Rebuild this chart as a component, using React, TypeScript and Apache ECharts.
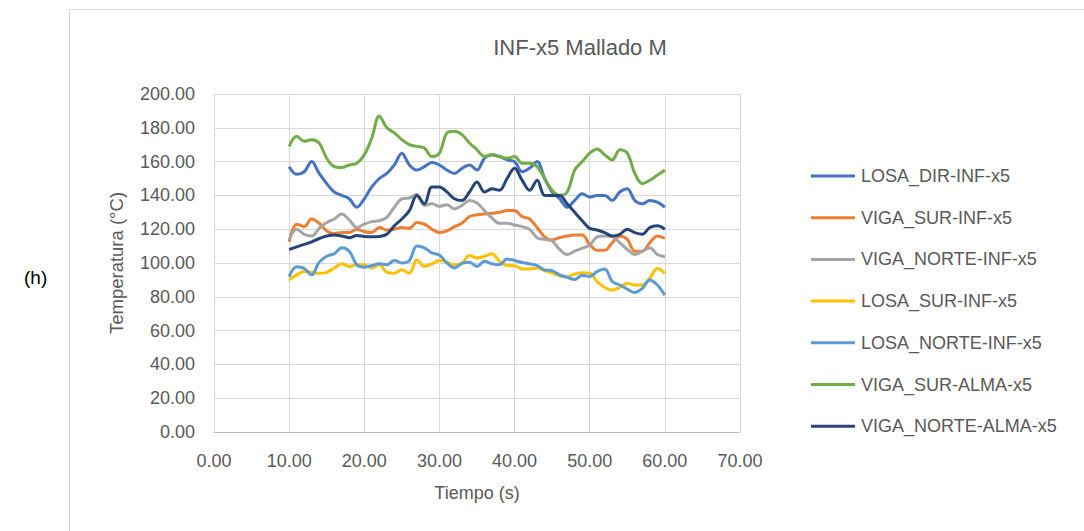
import React, { useEffect, useRef } from "react";
import * as echarts from "echarts";

const times = [10,11,12,13,14,15,16,17,18,19,20,21,22,23,24,25,26,27,28,29,30,31,32,33,34,35,36,37,38,39,40,41,42,43,44,45,46,47,48,49,50,51,52,53,54,55,56,57,58,59,60];

const losaDir = [157,152.5,154,160,153,147,142,140,138,133,138,145,150,153,158,165,158,155,157,159.5,158,155,153,156,158,155,162,164,163,161,160,154,156,160,150,142,138,133,137,141,139,140,140,137,142,144,137,135,137,136,133];
const vigaSurInf = [112.6,123,121.5,126,123.5,119,117.5,118,118,120,118.5,118,121,119.5,120,121,120.5,124,123,120,118,119,121.5,123.5,127.5,128.5,129,129.5,130,131,131,127.5,126,121,115.5,113.6,115,116,116.5,116.5,111,107.5,107.5,112,116,114,107,107,112,116,114.6];
const vigaNorteInf = [113.6,120,117,116,120.5,124,126,129,125.5,121,123,124.5,125,127,133,138,138.5,140.5,134,135,133.5,134.5,132,134,137,135.5,131,126.5,123.5,123.5,122.5,121.5,120,115,114,113,108,105,107,108.7,110.6,115.5,116,115.6,112,108,105,107,109,105,103.7];
const losaSurInf = [90,93,95,94.5,93.9,94.5,97,99.5,98,99,98.8,97,99,94.5,94,96,94,101.8,98,99.5,101.5,100.5,98.8,99.8,104.5,103,104,105.5,101,98.5,98.4,96.5,96.5,97,95.5,94,92.5,91.9,93.5,94.2,94,89,85.5,84,85.5,88,87,87,91,96.8,93.9];
const losaNorteInf = [91.9,97.8,96.8,93,100.5,104,105.5,109,107,99,97.5,98.5,99.5,99,101.5,100,101.5,110,109,106,104.7,100,97,99.8,100.5,98,101,99.5,99,102.3,101.5,100.3,99.5,98.5,95.9,95.5,93,91.5,90.2,92.8,92,95,96.5,89,87,84.5,82.5,85,90,87,81];
const vigaSurAlma = [169,175,172,173,171,162,157,156.5,158,159,164,174,187,180,177,173,170,169,168,163,165,177,178,176,171,167,163,164,163,162,163,159,159,157,150,143,140,142,155,160,165,167.5,164,161,167,165,153,147,149,152,155];
const vigaNorteAlma = [108,109.5,111,112.5,114.5,116,116.5,116,115,116.3,115.7,115.5,115.7,117,122,126,131,140,135,145,145,142,138,137,142,148,142,144,143,150,156,149,143,149,140,140,140,135,130,125,120.5,119.5,118,116,117,120,118,117,121,122,120];

const seriesNames = [
  "LOSA_DIR-INF-x5",
  "VIGA_SUR-INF-x5",
  "VIGA_NORTE-INF-x5",
  "LOSA_SUR-INF-x5",
  "LOSA_NORTE-INF-x5",
  "VIGA_SUR-ALMA-x5",
  "VIGA_NORTE-ALMA-x5",
];
const seriesValues = [losaDir, vigaSurInf, vigaNorteInf, losaSurInf, losaNorteInf, vigaSurAlma, vigaNorteAlma];
const seriesColors = ["#4472C4", "#ED7D31", "#A5A5A5", "#FFC000", "#5B9BD5", "#70AD47", "#264478"];

const FONT = "'Liberation Sans', Arial, sans-serif";

export default function App() {
  const ref = useRef<HTMLDivElement>(null);
  useEffect(() => {
    if (!ref.current) return;
    const chart = echarts.init(ref.current, null, { renderer: "svg" });
    chart.setOption({
      animation: false,
      backgroundColor: "#ffffff",
      title: {
        text: "INF-x5 Mallado M",
        left: 575,
        top: 31,
        textAlign: "center",
        textStyle: { fontFamily: FONT, fontSize: 22, fontWeight: "normal", color: "#595959" },
      },
      graphic: [
        {
          type: "rect",
          shape: { x: 69.5, y: 9.5, width: 1040, height: 560 },
          style: { fill: "none", stroke: "#d9d9d9", lineWidth: 1 },
          silent: true,
        },
        {
          type: "text",
          x: 24,
          y: 277,
          style: { text: "(h)", fontFamily: FONT, fontSize: 19, fill: "#000000", textAlign: "left", textVerticalAlign: "middle" },
        },
      ],
      grid: { left: 214, top: 94, width: 526, height: 338, containLabel: false },
      legend: {
        orient: "vertical",
        left: 806,
        top: 162,
        itemWidth: 44,
        itemHeight: 3,
        itemGap: 23.7,
        icon: "rect",
        textStyle: { fontFamily: FONT, fontSize: 18, color: "#595959", padding: [0, 0, 0, 1] },
        data: seriesNames,
      },
      xAxis: {
        type: "value",
        min: 0,
        max: 70,
        interval: 10,
        name: "Tiempo (s)",
        nameLocation: "middle",
        nameGap: 52,
        nameTextStyle: { fontFamily: FONT, fontSize: 18, color: "#595959" },
        axisLine: { show: true, lineStyle: { color: "#bfbfbf", width: 1 } },
        axisTick: { show: false },
        axisLabel: {
          formatter: (v: number) => v.toFixed(2),
          fontFamily: FONT,
          fontSize: 18,
          color: "#595959",
          margin: 20,
        },
        splitLine: { show: true, lineStyle: { color: "#d9d9d9", width: 1 } },
      },
      yAxis: {
        type: "value",
        min: 0,
        max: 200,
        interval: 20,
        name: "Temperatura (°C)",
        nameLocation: "middle",
        nameGap: 88,
        nameRotate: 90,
        nameTextStyle: { fontFamily: FONT, fontSize: 18.5, color: "#595959" },
        axisLine: { show: false },
        axisTick: { show: false },
        axisLabel: {
          formatter: (v: number) => v.toFixed(2),
          fontFamily: FONT,
          fontSize: 18,
          color: "#595959",
          margin: 19,
        },
        splitLine: { show: true, lineStyle: { color: "#d9d9d9", width: 1 } },
      },
      series: seriesNames.map((name, i) => ({
        name,
        type: "line",
        smooth: 0.35,
        showSymbol: false,
        symbol: "none",
        color: seriesColors[i],
        lineStyle: { width: 3, color: seriesColors[i] },
        data: times.map((t, j) => [t, seriesValues[i][j]]),
      })),
    });
    return () => chart.dispose();
  }, []);
  return (
    <div
      ref={ref}
      style={{ position: "fixed", left: 0, top: 0, width: 1084, height: 531 }}
    />
  );
}
